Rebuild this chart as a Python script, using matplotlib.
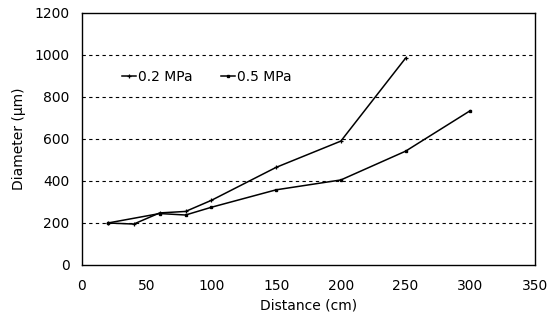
import matplotlib
matplotlib.use("Agg")
import matplotlib.pyplot as plt

plt.rcParams['font.family'] = ['DejaVu Sans']

dist_a = [20, 40, 60, 80, 100, 150, 200, 250]
diam_a = [200, 195, 248, 255, 308, 465, 590, 985]
dist_b = [20, 60, 80, 100, 150, 200, 250, 300]
diam_b = [200, 245, 238, 275, 358, 405, 542, 735]
labels = ['0.2 MPa', '0.5 MPa']

fig = plt.figure(figsize=(5.54, 3.24), dpi=100)
ax = fig.add_axes([82/554, 59/324, 453/554, 252/324])

ax.plot(dist_a, diam_a, color='black', lw=1.1, marker='+', ms=3, mew=0.9, label=labels[0])
ax.plot(dist_b, diam_b, color='black', lw=1.1, marker='s', ms=2, label=labels[1])

ax.set_xlim(0, 350)
ax.set_ylim(0, 1200)
ax.set_xticks(range(0, 351, 50))
ax.set_yticks(range(0, 1201, 200))
for y in range(200, 1001, 200):
    ax.axhline(y, color='black', lw=0.8, ls=(0, (3, 3)), zorder=0)

ax.tick_params(length=0, labelsize=10)
ax.tick_params(axis='x', pad=10)
ax.tick_params(axis='y', pad=9)
for s in ax.spines.values():
    s.set_linewidth(1.0)

ax.set_xlabel('Distance (cm)', fontsize=10, labelpad=4)
ax.set_ylabel('Diameter (\u03bcm)', fontsize=10, labelpad=6)

ax.legend(loc='center left', bbox_to_anchor=(0.06, 0.745), ncol=2, frameon=False,
          fontsize=10, handlelength=1.0, handletextpad=0.2, columnspacing=2.0)

fig.savefig('out.png', dpi=100)
